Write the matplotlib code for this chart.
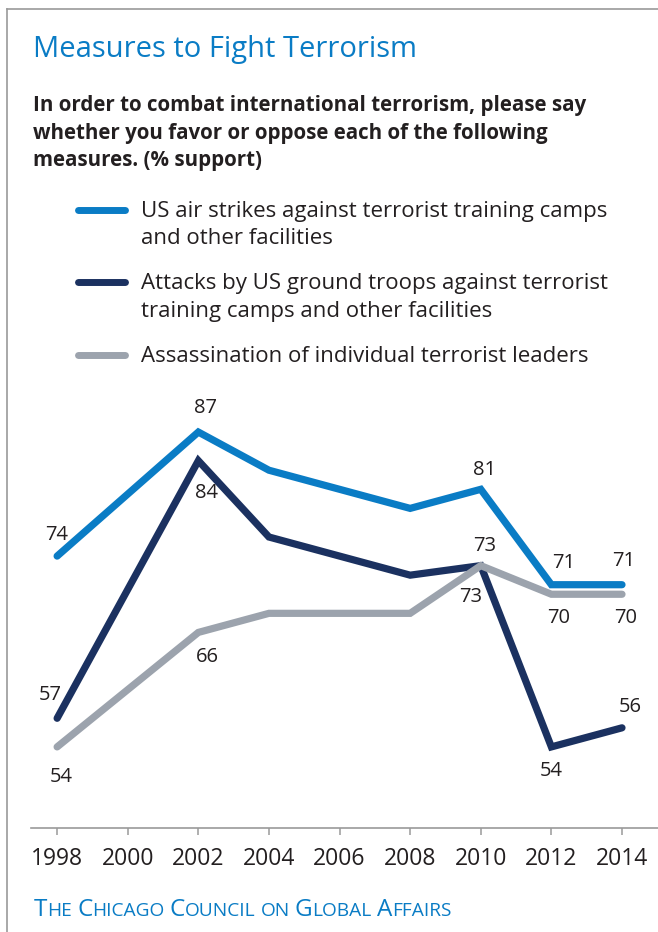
import matplotlib
matplotlib.use("Agg")
import matplotlib.pyplot as plt
from matplotlib.lines import Line2D
from matplotlib.offsetbox import TextArea, HPacker, AnchoredOffsetbox

# Survey data (% support)
years = [1998, 2002, 2004, 2008, 2010, 2012, 2014]
air_strikes = [74, 87, 83, 79, 81, 71, 71]
ground_troops = [57, 84, 76, 72, 73, 54, 56]
assassination = [54, 66, 68, 68, 73, 70, 70]
labeled_years = [1998, 2002, 2010, 2012, 2014]
tick_years = [1998, 2000, 2002, 2004, 2006, 2008, 2010, 2012, 2014]

series_names = [
    "US air strikes against terrorist training camps\nand other facilities",
    "Attacks by US ground troops against terrorist\ntraining camps and other facilities",
    "Assassination of individual terrorist leaders",
]

BLUE = "#0a7cc5"
NAVY = "#1b3160"
GRAY = "#9ca3ad"
TEXT = "#231f20"
FONT = ["Open Sans", "DejaVu Sans"]

W, H = 658, 932
fig = plt.figure(figsize=(W / 100, H / 100), dpi=100)
fig.patch.set_facecolor("white")


def px(x, y):
    return x / W, 1 - y / H


# frame lines along the top and left edge
fig.add_artist(Line2D([7 / W, 1], [1 - 9 / H, 1 - 9 / H], color="#9a9a9a", lw=1.2,
                      transform=fig.transFigure))
fig.add_artist(Line2D([7 / W, 7 / W], [0, 1 - 9 / H], color="#9a9a9a", lw=1.2,
                      transform=fig.transFigure))

# title and question text
fig.text(*px(33, 57), "Measures to Fight Terrorism", color=BLUE, fontsize=21,
         family=FONT, va="baseline", ha="left")
question = ["In order to combat international terrorism, please say",
            "whether you favor or oppose each of the following",
            "measures. (% support)"]
for i, line in enumerate(question):
    fig.text(*px(33, 111 + i * 27.5), line, color=TEXT, fontsize=14.8, fontweight="bold",
             family=FONT, va="baseline", ha="left")

# legend
colors = [BLUE, NAVY, GRAY]
legend_y = [210, 282, 355]
legend_text_y = [217, 289, 362]
for name, c, ly, ty in zip(series_names, colors, legend_y, legend_text_y):
    fig.add_artist(Line2D([78 / W, 125 / W], [1 - ly / H, 1 - ly / H], color=c, lw=5,
                          solid_capstyle="round", transform=fig.transFigure))
    for j, part in enumerate(name.split("\n")):
        fig.text(*px(141, ty + j * 27.5), part, color=TEXT, fontsize=16,
                 family=FONT, va="baseline", ha="left")

# chart axes
ax_left, ax_right, ax_bottom, ax_top = 31, 658, 828, 400
ax = fig.add_axes([ax_left / W, 1 - ax_bottom / H, (ax_right - ax_left) / W,
                   (ax_bottom - ax_top) / H])
ax.set_xlim(1997.26, 2015.02)
ax.set_ylim(45.5, 90.36)
ax.patch.set_alpha(0)
for s in ["top", "left", "right"]:
    ax.spines[s].set_visible(False)
ax.spines["bottom"].set_color("#9a9a9a")
ax.spines["bottom"].set_linewidth(1.2)
ax.set_yticks([])
ax.set_xticks(tick_years)
ax.set_xticklabels([str(y) for y in tick_years], fontsize=16.5, color=TEXT, family=FONT)
ax.tick_params(axis="x", direction="out", length=5, width=1.1, color="#9a9a9a", pad=9)

line_kw = dict(lw=5.2, solid_capstyle="round", solid_joinstyle="miter")
ax.plot(years, ground_troops, color=NAVY, zorder=2, **line_kw)
ax.plot(years, assassination, color=GRAY, zorder=3, **line_kw)
ax.plot(years, air_strikes, color=BLUE, zorder=4, **line_kw)

# value label offsets in pixels (dx right, dy up)
air_offsets = {1998: (0, 21), 2002: (7, 24), 2010: (4, 19), 2012: (12, 22), 2014: (2, 24)}
ground_offsets = {1998: (-7, 23), 2002: (8, -32), 2010: (-10, -31), 2012: (0, -24), 2014: (8, 21)}
assn_offsets = {1998: (4, -30), 2002: (9, -25), 2010: (4, 20), 2012: (7, -24), 2014: (4, -24)}

for values, offsets in [(air_strikes, air_offsets), (ground_troops, ground_offsets),
                        (assassination, assn_offsets)]:
    for yr, v in zip(years, values):
        if yr in labeled_years:
            dx, dy = offsets[yr]
            ax.annotate(str(v), (yr, v), xytext=(dx * 0.72, dy * 0.72),
                        textcoords="offset points", ha="center", va="center",
                        fontsize=14.5, color=TEXT, family=FONT, zorder=6)

# footer in small capitals
footer = "The Chicago Council on Global Affairs"
big, small = 17.5, 13.8
parts = []
for k, word in enumerate(footer.split(" ")):
    if k > 0:
        parts.append(TextArea(" ", textprops=dict(fontsize=small, color=BLUE, family=FONT)))
    if word[0].isupper():
        parts.append(TextArea(word[0], textprops=dict(fontsize=big, color=BLUE, family=FONT)))
        rest = word[1:]
    else:
        rest = word
    if rest:
        parts.append(TextArea(rest.upper(), textprops=dict(fontsize=small, color=BLUE, family=FONT)))
box = HPacker(children=parts, align="baseline", pad=0, sep=0)
anchored = AnchoredOffsetbox(loc="lower left", child=box, pad=0, borderpad=0, frameon=False,
                             bbox_to_anchor=px(34, 922), bbox_transform=fig.transFigure)
fig.add_artist(anchored)

fig.savefig("out.png", dpi=100, facecolor="white")
